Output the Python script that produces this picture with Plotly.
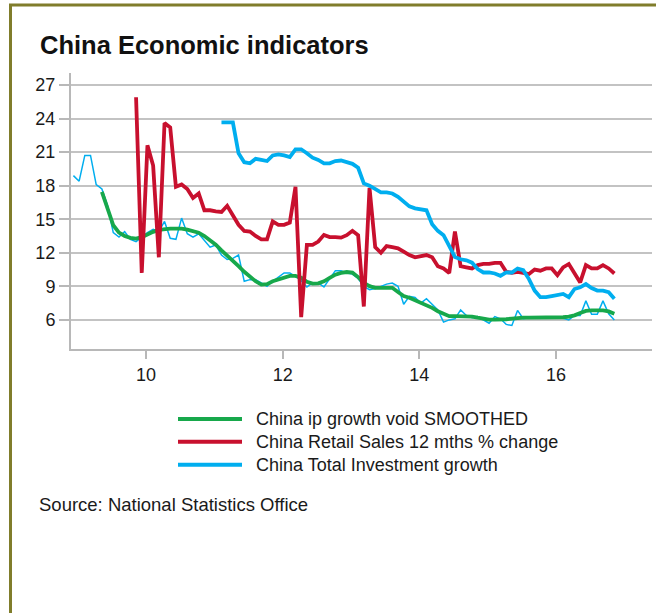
import plotly.graph_objects as go

# ---- data (monthly, % y/y) ----
tick_vals = [10, 12, 14, 16]
tick_text = ["10", "12", "14", "16"]
y_ticks = [6, 9, 12, 15, 18, 21, 24, 27]

# industrial production growth, raw (starts Dec 2008)
ip_raw_start = (2008, 12)
ip_raw = [
    18.9,
    18.4, 20.7, 20.7, 18.1, 17.7, 16.2, 13.8, 13.4, 13.9, 13.2, 13.0, 13.4,
    13.8, 14.1, 13.9, 14.8, 13.3, 13.2, 15.1, 13.7, 13.4, 13.7, 13.1, 12.5,
    12.7, 11.8, 11.4, 11.5, 11.8, 9.45, 9.6, 9.6, 9.3, 9.0, 9.45, 9.85,
    10.2, 10.2, 9.9, 9.5, 8.95, 9.3, 9.3, 8.95, 9.7, 10.4, 10.4, 10.2,
    10.1, 9.7, 9.0, 8.7, 8.8, 9.0, 9.2, 9.3, 9.0, 7.4, 8.1, 8.0,
    7.5, 7.9, 7.4, 6.9, 5.8, 6.0, 6.1, 6.9, 6.4, 6.2, 6.3, 6.0,
    5.7, 6.3, 6.1, 5.6, 5.5, 6.85, 6.1, 6.2, 6.2, 6.2, 6.25, 6.2,
    6.2, 6.15, 6.0, 6.4, 6.4, 7.7, 6.5, 6.5, 7.7, 6.55, 6.0,
]

# industrial production growth, smoothed (starts May 2009)
ip_smooth_start = (2009, 5)
ip_smooth = [
    17.45, 15.95, 14.46, 13.8, 13.5, 13.33, 13.27, 13.4,
    13.66, 13.87, 14.04, 14.13, 14.16, 14.16, 14.16, 14.07, 13.95, 13.8, 13.5, 13.1,
    12.73, 12.22, 11.78, 11.33, 10.8, 10.3, 9.84, 9.45, 9.15, 9.2, 9.45, 9.63,
    9.8, 9.93, 9.93, 9.78, 9.4, 9.24, 9.27, 9.45, 9.75, 10.04, 10.2, 10.28,
    10.22, 9.83, 9.32, 9.02, 8.87, 8.87, 8.87, 8.87, 8.49, 8.13, 7.98, 7.77,
    7.59, 7.35, 7.08, 6.78, 6.57, 6.33, 6.33, 6.33, 6.33, 6.3, 6.2, 6.09,
    6.03, 6.03, 6.03, 6.06, 6.12, 6.18, 6.2, 6.2, 6.2, 6.2, 6.2, 6.2,
    6.2, 6.24, 6.3, 6.41, 6.62, 6.8, 6.85, 6.85, 6.85, 6.76, 6.56,
]

# retail sales, 12 months % change (starts Nov 2009)
retail_start = (2009, 11)
retail = [
    25.9, 10.2,
    21.6, 19.8, 11.6, 23.6, 23.2, 17.9, 18.1, 17.7, 16.9, 17.3, 15.8, 15.8,
    15.7, 15.65, 16.2, 15.3, 14.5, 13.95, 13.9, 13.5, 13.2, 13.2, 14.8, 14.5,
    14.5, 14.7, 17.9, 6.25, 12.7, 12.7, 13.0, 13.6, 13.4, 13.4, 13.35, 13.57,
    13.96, 13.57, 7.2, 17.8, 12.5, 12.0, 12.6, 12.5, 12.4, 12.1, 11.8, 11.6,
    11.7, 11.8, 11.6, 10.8, 10.6, 10.2, 13.9, 10.8, 10.7, 10.6, 10.9, 11.0,
    11.0, 11.1, 11.1, 10.3, 10.2, 10.3, 10.2, 10.1, 10.5, 10.4, 10.6, 10.6,
    10.0, 10.7, 11.0, 10.15, 9.35, 10.9, 10.6, 10.6, 10.9, 10.6, 10.15,
]

# total investment growth (starts Feb 2011)
invest_start = (2011, 2)
invest = [
    23.66, 23.66, 23.66, 20.9, 20.1, 20.0, 20.4, 20.3, 20.2, 20.7, 20.8,
    20.7, 20.55, 21.25, 21.25, 20.9, 20.5, 20.3, 20.0, 20.0, 20.2, 20.25, 20.1,
    19.95, 19.6, 18.2, 18.0, 17.65, 17.4, 17.4, 17.3, 17.0, 16.6, 16.15, 15.97,
    15.9, 15.8, 14.56, 13.96, 13.57, 12.6, 11.63, 11.42, 11.33, 11.12, 10.55, 10.24,
    10.24, 10.15, 9.94, 10.24, 10.24, 10.59, 10.44, 9.65, 8.62, 8.03, 8.03, 8.12,
    8.26, 8.32, 8.03, 8.76, 8.91, 9.2, 8.85, 8.62, 8.62, 8.47, 7.9,
]

names = [
    "China ip growth void SMOOTHED",
    "China Retail Sales 12 mths % change",
    "China Total Investment growth",
]

GREEN = "#17a84b"
RED = "#c8102e"
BLUE = "#00aeef"
GRID = "#c3c3c3"
AXIS = "#b8b8b8"
INK = "#1a1a1a"
FRAME = "#807d2b"
FONT = "Liberation Sans, Arial, sans-serif"


def month_axis(start, n):
    """Two-digit-year decimal positions for n consecutive months."""
    y0, m0 = start
    out = []
    for i in range(n):
        m = m0 - 1 + i
        out.append((y0 - 2000) + (m + 0.25) / 12.0)
    return out


fig = go.Figure()
fig.add_trace(go.Scatter(
    x=month_axis(ip_raw_start, len(ip_raw)), y=ip_raw, mode="lines",
    line=dict(color=BLUE, width=1.5), showlegend=False, hoverinfo="skip"))
fig.add_trace(go.Scatter(
    x=month_axis(ip_smooth_start, len(ip_smooth)), y=ip_smooth, mode="lines",
    name=names[0], line=dict(color=GREEN, width=3.8), showlegend=False))
fig.add_trace(go.Scatter(
    x=month_axis(retail_start, len(retail)), y=retail, mode="lines",
    name=names[1], line=dict(color=RED, width=3.8), showlegend=False))
fig.add_trace(go.Scatter(
    x=month_axis(invest_start, len(invest)), y=invest, mode="lines",
    name=names[2], line=dict(color=BLUE, width=3.8), showlegend=False))

W, H = 656, 613
L, R, T, B = 71, 4, 73, 264
PW, PH = W - L - R, H - T - B


def px(xp):
    return (xp - L) / PW


def py(yp):
    return (H - B - yp) / PH


shapes = [
    # olive frame, top and left edges
    dict(type="line", xref="paper", yref="paper", x0=px(9), x1=px(W + 2),
         y0=py(5), y1=py(5), line=dict(color=FRAME, width=3)),
    dict(type="line", xref="paper", yref="paper", x0=px(10.5), x1=px(10.5),
         y0=py(4), y1=py(H + 2), line=dict(color=FRAME, width=3)),
]

annotations = [
    dict(text="<b>China Economic indicators</b>", xref="paper", yref="paper",
         x=px(38), y=py(45.5), xanchor="left", yanchor="middle", showarrow=False,
         font=dict(family=FONT, size=25.5, color="#111111")),
    dict(text="Source: National Statistics Office", xref="paper", yref="paper",
         x=px(37), y=py(504), xanchor="left", yanchor="middle", showarrow=False,
         font=dict(family=FONT, size=18.5, color=INK)),
]

# legend rows
for name, color, yrow in zip(names, [GREEN, RED, BLUE], [419, 441.7, 464.7]):
    shapes.append(dict(type="line", xref="paper", yref="paper",
                       x0=px(178), x1=px(242), y0=py(yrow), y1=py(yrow),
                       line=dict(color=color, width=4)))
    annotations.append(dict(text=name, xref="paper", yref="paper",
                            x=px(254), y=py(yrow), xanchor="left", yanchor="middle",
                            showarrow=False,
                            font=dict(family=FONT, size=18, color=INK)))

fig.update_layout(
    width=W, height=H,
    margin=dict(l=L, r=R, t=T, b=B, pad=0),
    paper_bgcolor="white", plot_bgcolor="white",
    showlegend=False,
    font=dict(family=FONT, size=18, color=INK),
    shapes=shapes,
    annotations=annotations,
    xaxis=dict(
        range=[8.902, 17.405], tickmode="array", tickvals=tick_vals, ticktext=tick_text,
        showgrid=False, zeroline=False,
        showline=True, linecolor=AXIS, linewidth=2,
        ticks="outside", ticklen=8, tickwidth=1.5, tickcolor=AXIS,
        tickfont=dict(family=FONT, size=18, color=INK),
        fixedrange=True,
    ),
    yaxis=dict(
        range=[3.4, 28.07], tickmode="array", tickvals=y_ticks,
        ticktext=[str(v) for v in y_ticks],
        showgrid=True, gridcolor=GRID, gridwidth=2, zeroline=False,
        showline=True, linecolor=AXIS, linewidth=2,
        ticks="outside", ticklen=10, tickwidth=1.5, tickcolor=AXIS,
        tickfont=dict(family=FONT, size=18, color=INK),
        fixedrange=True,
    ),
)

fig.write_html("out.html")
